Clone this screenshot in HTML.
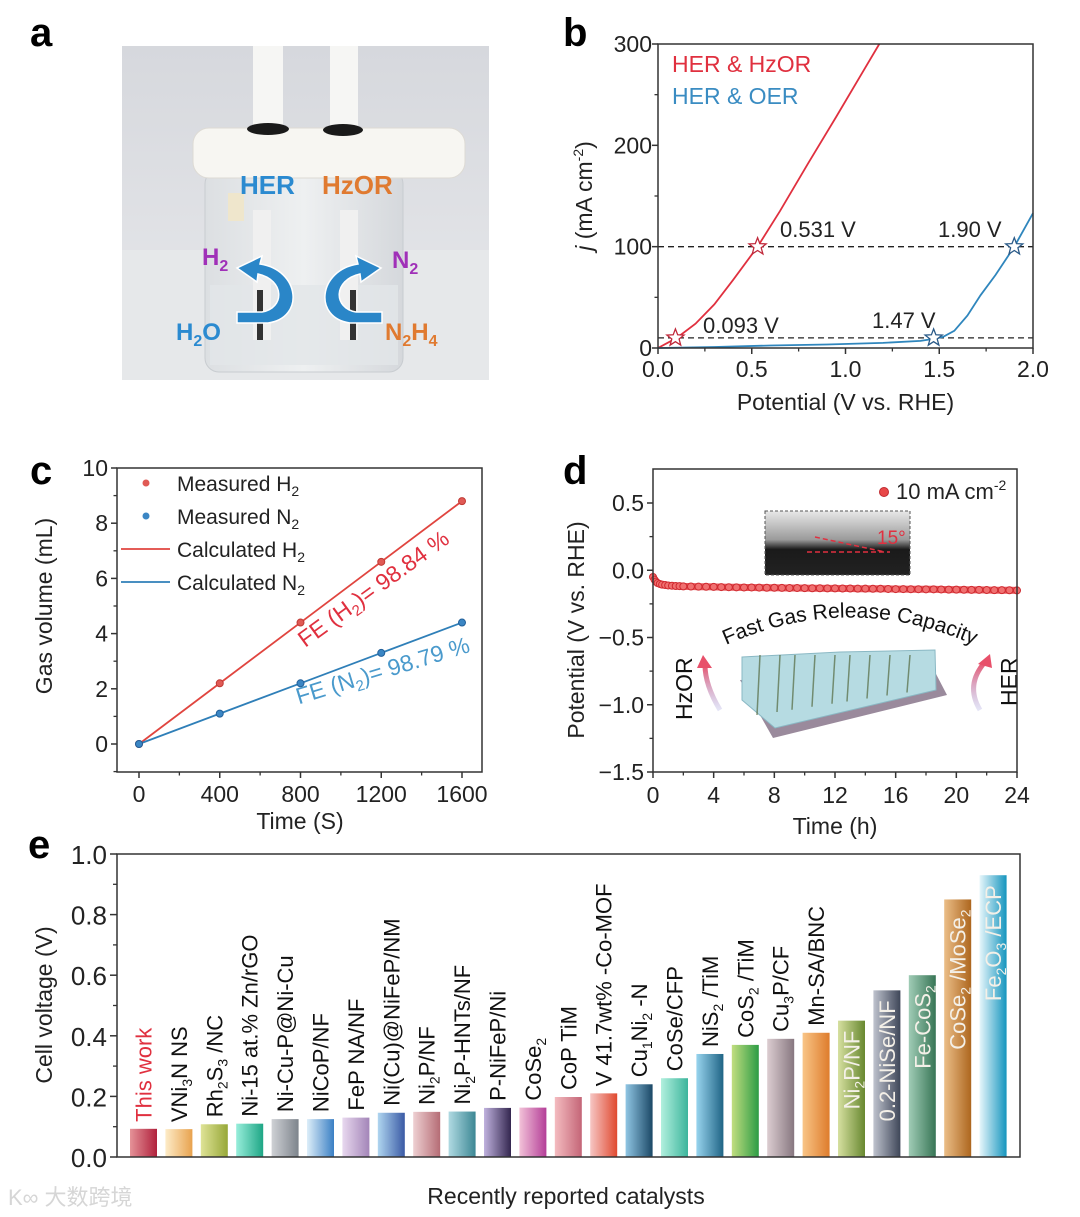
<!DOCTYPE html>
<html><head><meta charset="utf-8"><style>
html,body{margin:0;padding:0;background:#fff;}
svg{display:block;font-family:"Liberation Sans",Arial,sans-serif;}
</style></head><body>
<svg id="fig" xmlns="http://www.w3.org/2000/svg" width="1080" height="1217" viewBox="0 0 1080 1217">
<defs>
  <linearGradient id="wallg" x1="0" y1="0" x2="0" y2="1"><stop offset="0" stop-color="#d6d8dd"/><stop offset="1" stop-color="#e8e9ec"/></linearGradient>
  <linearGradient id="glassg" x1="0" y1="0" x2="1" y2="0"><stop offset="0" stop-color="#dcdfe2"/><stop offset="0.5" stop-color="#eef0f1"/><stop offset="1" stop-color="#d5d8dc"/></linearGradient>
  <linearGradient id="cag" x1="0" y1="0" x2="0" y2="1"><stop offset="0" stop-color="#e8e8e8"/><stop offset="0.45" stop-color="#9a9a9a"/><stop offset="0.6" stop-color="#1a1a1a"/><stop offset="1" stop-color="#222"/></linearGradient>
  <linearGradient id="arrg" x1="0" y1="1" x2="0" y2="0"><stop offset="0" stop-color="#a8a8e0" stop-opacity="0.3"/><stop offset="1" stop-color="#e8506a"/></linearGradient>
  <path id="arcpath" d="M 715 650 Q 850 585 985 650"/>
</defs>

<text x="30" y="46" font-size="40" font-weight="bold">a</text>
<text x="563" y="46" font-size="40" font-weight="bold">b</text>
<text x="30" y="484" font-size="40" font-weight="bold">c</text>
<text x="563" y="484" font-size="40" font-weight="bold">d</text>
<text x="28" y="858" font-size="40" font-weight="bold">e</text>

<g>
  <rect x="122" y="46" width="367" height="334" fill="url(#wallg)"/>
  <rect x="122" y="250" width="367" height="130" fill="#e6e8ea"/>
  <rect x="205" y="170" width="198" height="202" rx="14" fill="url(#glassg)" stroke="#c8ccd0"/>
  <rect x="210" y="285" width="188" height="80" fill="#e2e6e8" opacity="0.8"/>
  <rect x="253" y="46" width="30" height="86" fill="#f6f6f4"/>
  <rect x="330" y="46" width="28" height="86" fill="#f6f6f4"/>
  <rect x="193" y="128" width="272" height="50" rx="16" fill="#f7f6f2" stroke="#dddad4"/>
  <ellipse cx="268" cy="129" rx="21" ry="6" fill="#1a1a1a"/>
  <ellipse cx="343" cy="130" rx="20" ry="6" fill="#1a1a1a"/>
  <rect x="253" y="210" width="18" height="130" fill="#f0f0f0"/>
  <rect x="340" y="210" width="18" height="130" fill="#f0f0f0"/>
  <rect x="257" y="290" width="6" height="50" fill="#333"/>
  <rect x="350" y="290" width="6" height="50" fill="#333"/>
  <rect x="228" y="193" width="16" height="28" fill="#efe6cc"/>
  <path d="M 237 323 L 268 323 C 305 318 300 270 260 264 L 262 256 L 237 268 L 257 282 L 258 274 C 285 280 285 308 262 312 L 237 312 Z" fill="#2a86c8" stroke="#fff" stroke-width="1.5"/>
  <path d="M 382 323 L 350 323 C 313 318 318 270 358 264 L 356 256 L 381 268 L 361 282 L 360 274 C 333 280 333 308 356 312 L 382 312 Z" fill="#2a86c8" stroke="#fff" stroke-width="1.5"/>
  <text x="240" y="194" font-size="26" font-weight="bold" fill="#2b8ad0">HER</text>
  <text x="322" y="194" font-size="26" font-weight="bold" fill="#e07a30">HzOR</text>
  <text x="202" y="265" font-size="24" font-weight="bold" fill="#a030b8">H<tspan font-size="16" dy="6">2</tspan></text>
  <text x="392" y="268" font-size="24" font-weight="bold" fill="#a030b8">N<tspan font-size="16" dy="6">2</tspan></text>
  <text x="176" y="340" font-size="24" font-weight="bold" fill="#2b8ad0">H<tspan font-size="16" dy="6">2</tspan><tspan dy="-6">O</tspan></text>
  <text x="385" y="340" font-size="24" font-weight="bold" fill="#e07a30">N<tspan font-size="16" dy="6">2</tspan><tspan dy="-6">H</tspan><tspan font-size="16" dy="6">4</tspan></text>
</g>

<g id="pb"></g>
<g id="pc"></g>
<g id="pd"></g>
<g id="pe"></g>

<text x="8" y="1205" font-size="22" fill="#d6d6d6" font-family="'Liberation Sans','Noto Sans CJK SC',sans-serif">K∞ 大数跨境</text>
</svg>
<script>
const NS='http://www.w3.org/2000/svg';
function mk(parent,tag,attrs,text){const e=document.createElementNS(NS,tag);for(const k in attrs)e.setAttribute(k,attrs[k]);if(text!==undefined)e.textContent=text;parent.appendChild(e);return e;}
function lin(d0,d1,r0,r1){return v=>r0+(v-d0)*(r1-r0)/(d1-d0);}

const bRedX=[0,0.05,0.1,0.2,0.3,0.4,0.531,0.65,0.8,0.95,1.1,1.18];
const bRedY=[0,5,10,24,43,67,100,135,182,228,275,300];
const bBlueX=[0,0.3,0.6,0.9,1.2,1.4,1.47,1.52,1.58,1.65,1.72,1.8,1.9,2.0];
const bBlueY=[0,1,2.5,3.5,5,7,9,11,17,32,52,72,100,133];
const bStarX=[0.093,0.531,1.47,1.90];
const bStarY=[10,100,10,100];
const bStarSeries=['red','red','blue','blue'];
const bXTicks=[0,0.5,1.0,1.5,2.0];
const bYTicks=[0,100,200,300];
const bXLabels=['0.0','0.5','1.0','1.5','2.0'];
const bRefLines=[10,100];

const cTime=[0,400,800,1200,1600];
const cH2=[0,2.2,4.4,6.6,8.8];
const cN2=[0,1.1,2.2,3.3,4.4];
const cXTicks=[0,400,800,1200,1600];
const cYTicks=[0,2,4,6,8,10];

const dTime=[0,0.1,0.2,0.3,0.45,0.6,0.8,1,1.25,1.5,1.75,2,2.5,3,3.5,4,4.5,5,5.5,6,6.5,7,7.5,8,8.5,9,9.5,10,10.5,11,11.5,12,12.5,13,13.5,14,14.5,15,15.5,16,16.5,17,17.5,18,18.5,19,19.5,20,20.5,21,21.5,22,22.5,23,23.5,24];
const dPot=[-0.05,-0.07,-0.085,-0.095,-0.102,-0.107,-0.11,-0.113,-0.115,-0.117,-0.118,-0.12,-0.121,-0.122,-0.123,-0.124,-0.125,-0.126,-0.127,-0.128,-0.128,-0.129,-0.13,-0.13,-0.131,-0.132,-0.132,-0.133,-0.134,-0.134,-0.135,-0.135,-0.136,-0.136,-0.137,-0.137,-0.138,-0.138,-0.139,-0.14,-0.14,-0.141,-0.141,-0.142,-0.142,-0.143,-0.144,-0.144,-0.145,-0.146,-0.146,-0.147,-0.148,-0.148,-0.149,-0.15];
const dXTicks=[0,4,8,12,16,20,24];
const dYTicks=[0.5,0,-0.5,-1.0,-1.5];
const dYLabels=['0.5','0.0','\u22120.5','\u22121.0','\u22121.5'];

const eNames=[
 ['This work'],['VNi',['3'],'N NS'],['Rh',['2'],'S',['3'],' /NC'],['Ni-15 at.% Zn/rGO'],['Ni-Cu-P@Ni-Cu'],['NiCoP/NF'],['FeP NA/NF'],['Ni(Cu)@NiFeP/NM'],['Ni',['2'],'P/NF'],['Ni',['2'],'P-HNTs/NF'],['P-NiFeP/Ni'],['CoSe',['2']],['CoP TiM'],['V 41.7wt% -Co-MOF'],['Cu',['1'],'Ni',['2'],' -N'],['CoSe/CFP'],['NiS',['2'],' /TiM'],['CoS',['2'],' /TiM'],['Cu',['3'],'P/CF'],['Mn-SA/BNC'],['Ni',['2'],'P/NF'],['0.2-NiSe/NF'],['Fe-CoS',['2']],['CoSe',['2'],' /MoSe',['2']],['Fe',['2'],'O',['3'],' /ECP']];
const eValues=[0.093,0.092,0.108,0.11,0.125,0.125,0.13,0.146,0.149,0.15,0.162,0.163,0.198,0.21,0.24,0.26,0.34,0.37,0.39,0.41,0.45,0.55,0.60,0.85,0.93];
const eYTicks=[0,0.2,0.4,0.6,0.8,1.0];
const eYLabels=['0.0','0.2','0.4','0.6','0.8','1.0'];
const eColors=[['#e59298','#b0213c'],['#fdecc8','#e8a24e'],['#dfe397','#97a838'],['#98eedb','#1ea685'],['#cfd1d5','#7d848c'],['#ddeef9','#3a7fc4'],['#e8d8ef','#a385b8'],['#b0d6f0','#3a5aa5'],['#eed0d2','#b56c75'],['#b0dae2','#3c8794'],['#c0b2de','#33264f'],['#f2c2d8','#b43e98'],['#f4bcc0','#c46577'],['#f6c6c4','#e0492f'],['#90c6e4','#1b4866'],['#b2f0de','#3cb59c'],['#98d4ee','#1f6485'],['#c2de80','#2c9c44'],['#dccdd1','#877780'],['#f9c587','#de7c2c'],['#d6e0a0','#688830'],['#bfc3ce','#3e4658'],['#a0ccb6','#377555'],['#ebbe88','#ad661e'],['#e6f6fb','#1595be']];

function axesFrame(g,x0,y0,x1,y1){mk(g,'rect',{x:x0,y:y0,width:x1-x0,height:y1-y0,fill:'none',stroke:'#333','stroke-width':1.5});}

(function(){
 const g=document.getElementById('pb');
 const L=658,R=1033,T=44,B=348;
 const X=lin(0,2,L,R),Y=lin(0,300,B,T);
 bRefLines.forEach((v,i)=>{const l=mk(g,'line',{x1:L,x2:R,y1:Y(v),y2:Y(v),stroke:'#222','stroke-width':1.3,'stroke-dasharray':'6,4'});
 });
 const path=(xs,ys)=>xs.map((x,i)=>(i?'L':'M')+X(x).toFixed(1)+' '+Y(ys[i]).toFixed(1)).join(' ');
 const pr=mk(g,'path',{d:path(bRedX,bRedY),fill:'none',stroke:'#e0303f','stroke-width':1.8});
 
 const pbl=mk(g,'path',{d:path(bBlueX,bBlueY),fill:'none',stroke:'#2f86bd','stroke-width':1.8});
 
 bStarX.forEach((sx,i)=>{const cx=X(sx),cy=Y(bStarY[i]);let pts=[];for(let k=0;k<10;k++){const r=k%2?3.8:9,a=-Math.PI/2+k*Math.PI/5;pts.push((cx+r*Math.cos(a)).toFixed(1)+','+(cy+r*Math.sin(a)).toFixed(1));}
  const s=mk(g,'polygon',{points:pts.join(' '),fill:'#fff',stroke:bStarSeries[i]==='red'?'#c0283a':'#2a5a88','stroke-width':1.3});
  });
 axesFrame(g,L,T,R,B);
 bXTicks.forEach((v,i)=>{mk(g,'line',{x1:X(v),x2:X(v),y1:B,y2:B+6,stroke:'#333','stroke-width':1.5});
  const t=mk(g,'text',{x:X(v),y:B+29,'font-size':23,'text-anchor':'middle',fill:'#222'},bXLabels[i]);
  if(i<bXTicks.length-1)mk(g,'line',{x1:X(v+0.25),x2:X(v+0.25),y1:B,y2:B+3.5,stroke:'#333','stroke-width':1.3});});
 bYTicks.forEach((v,i)=>{mk(g,'line',{x1:L-6,x2:L,y1:Y(v),y2:Y(v),stroke:'#333','stroke-width':1.5});
  const t=mk(g,'text',{x:L-6,y:Y(v)+8,'font-size':23,'text-anchor':'end',fill:'#222'},String(v));
  if(i<bYTicks.length-1)mk(g,'line',{x1:L-3.5,x2:L,y1:Y(v+50),y2:Y(v+50),stroke:'#333','stroke-width':1.3});});
 const xt=mk(g,'text',{x:(L+R)/2,y:410,'font-size':23,'text-anchor':'middle',fill:'#222'},'Potential (V vs. RHE)');
 const yt=mk(g,'text',{transform:'translate(592,196) rotate(-90)','font-size':23,'text-anchor':'middle',fill:'#222'});
 mk(yt,'tspan',{'font-style':'italic'},'j');mk(yt,'tspan',{},' (mA cm');mk(yt,'tspan',{'font-size':14,dy:-9},'-2');mk(yt,'tspan',{dy:9},')');
 const l1=mk(g,'text',{x:672,y:72,'font-size':23,fill:'#e0303f'},'HER & HzOR');
 const l2=mk(g,'text',{x:672,y:104,'font-size':23,fill:'#3a8cc2'},'HER & OER');
 [['0.531 V',780,237],['1.90 V',938,237],['0.093 V',703,333],['1.47 V',872,328]].forEach(a=>{const t=mk(g,'text',{x:a[1],y:a[2],'font-size':22,fill:'#222'},a[0]);});
})();

(function(){
 const g=document.getElementById('pc');
 const L=117,R=482,T=468,B=772;
 const X=lin(0,1600,139,462),Y=lin(0,10,744,T);
 axesFrame(g,L,T,R,B);
 const pl=(ys,c,n)=>{const p=mk(g,'path',{d:cTime.map((t,i)=>(i?'L':'M')+X(t)+' '+Y(ys[i])).join(' '),fill:'none',stroke:c,'stroke-width':1.8});};
 pl(cH2,'#e0453f','calculated-h2-line');pl(cN2,'#2f7fb8','calculated-n2-line');
 cTime.forEach((t,i)=>{const a=mk(g,'circle',{cx:X(t),cy:Y(cH2[i]),r:3.5,fill:'#e05a55',stroke:'#c03a35'});
  const b=mk(g,'circle',{cx:X(t),cy:Y(cN2[i]),r:3.5,fill:'#3b86c4',stroke:'#22609a'});});
 cXTicks.forEach((v,i)=>{mk(g,'line',{x1:X(v),x2:X(v),y1:B,y2:B+6,stroke:'#333','stroke-width':1.5});
  const t=mk(g,'text',{x:X(v),y:B+30,'font-size':23,'text-anchor':'middle',fill:'#222'},String(v));
  if(i<cXTicks.length-1)mk(g,'line',{x1:X(v+200),x2:X(v+200),y1:B,y2:B+3.5,stroke:'#333','stroke-width':1.3});});
 cYTicks.forEach((v,i)=>{mk(g,'line',{x1:L-6,x2:L,y1:Y(v),y2:Y(v),stroke:'#333','stroke-width':1.5});
  const t=mk(g,'text',{x:L-9,y:Y(v)+8,'font-size':23,'text-anchor':'end',fill:'#222'},String(v));
  mk(g,'line',{x1:L-3.5,x2:L,y1:Y(v-1),y2:Y(v-1),stroke:'#333','stroke-width':1.3});});
 const xt=mk(g,'text',{x:300,y:829,'font-size':23,'text-anchor':'middle',fill:'#222'},'Time (S)');
 const yt=mk(g,'text',{transform:'translate(52,606) rotate(-90)','font-size':23,'text-anchor':'middle',fill:'#222'},'Gas volume (mL)');
 const leg=[['Measured H','2',483,'dot','#e05a55'],['Measured N','2',516,'dot','#3b86c4'],['Calculated H','2',549,'line','#e0453f'],['Calculated N','2',582,'line','#2f7fb8']];
 leg.forEach(e=>{if(e[3]==='dot')mk(g,'circle',{cx:146,cy:e[2],r:3.5,fill:e[4]});else mk(g,'line',{x1:121,x2:170,y1:e[2],y2:e[2],stroke:e[4],'stroke-width':1.8});
  const t=mk(g,'text',{x:177,y:e[2]+8,'font-size':21,fill:'#222'},e[0]);mk(t,'tspan',{'font-size':14,dy:5},e[1]);});
 const f1=mk(g,'text',{transform:'translate(378,595) rotate(-36)','font-size':23,'text-anchor':'middle',fill:'#e0303f'},'FE (H');
 mk(f1,'tspan',{'font-size':15,dy:5},'2');mk(f1,'tspan',{dy:-5},')= 98.84 %');
 const f2=mk(g,'text',{transform:'translate(385,678) rotate(-17)','font-size':23,'text-anchor':'middle',fill:'#4a9acc'},'FE (N');
 mk(f2,'tspan',{'font-size':15,dy:5},'2');mk(f2,'tspan',{dy:-5},')= 98.79 %');
})();

(function(){
 const g=document.getElementById('pd');
 const L=653,R=1017,T=469,B=772;
 const X=lin(0,24,L,R),Y=lin(-1.5,0.5,B,503);
 const ins=mk(g,'g',{});
 mk(ins,'rect',{x:765,y:511,width:145,height:64,fill:'url(#cag)',stroke:'#555','stroke-dasharray':'3,2'});
 mk(ins,'line',{x1:815,y1:537,x2:885,y2:552,stroke:'#e03040','stroke-width':1.5,'stroke-dasharray':'5,3'});
 mk(ins,'line',{x1:807,y1:552,x2:890,y2:552,stroke:'#e03040','stroke-width':1.5,'stroke-dasharray':'5,3'});
 mk(ins,'text',{x:877,y:544,'font-size':19,fill:'#e03040'},'15°');
 const sch=mk(g,'g',{});
 mk(sch,'polygon',{points:'740,680 935,672 947,695 773,738',fill:'#9a8a9c'});
 mk(sch,'polygon',{points:'742,657 840,652 935,650 936,690 775,728 742,700',fill:'#b6dbe2',stroke:'#8ab8c4','stroke-width':1});
 [760,780,795,815,835,850,870,890,910].forEach(x=>mk(sch,'line',{x1:x,y1:655,x2:x-3,y2:715-(x-760)*0.15,stroke:'#556a40','stroke-width':1.5,opacity:0.7}));
 const ft=mk(g,'text',{'font-size':21,fill:'#111'});
 mk(ft,'textPath',{href:'#arcpath',startOffset:'50%','text-anchor':'middle'},'Fast Gas Release Capacity');
 mk(g,'path',{d:'M 720 710 Q 705 685 705 665',fill:'none',stroke:'url(#arrg)','stroke-width':5});
 mk(g,'polygon',{points:'697,668 712,668 703,655',fill:'#e8506a'});
 mk(g,'path',{d:'M 980 710 Q 965 685 985 662',fill:'none',stroke:'url(#arrg)','stroke-width':5});
 mk(g,'polygon',{points:'978,664 992,668 990,654',fill:'#e8506a'});
 const h1=mk(g,'text',{transform:'translate(692,720) rotate(-90)','font-size':23,fill:'#111'},'HzOR');
 const h2=mk(g,'text',{transform:'translate(1017,706) rotate(-90)','font-size':23,fill:'#111'},'HER');
 const band=mk(g,'path',{d:dTime.map((t,i)=>(i?'L':'M')+X(t).toFixed(1)+' '+Y(dPot[i]).toFixed(1)).join(' '),fill:'none',stroke:'#e8575a','stroke-width':7});
 
 dTime.forEach((t,i)=>{const c=mk(g,'circle',{cx:X(t),cy:Y(dPot[i]),r:3.5,fill:'#f07070',stroke:'#d02a30','stroke-width':1});});
 axesFrame(g,L,T,R,B);
 dXTicks.forEach((v,i)=>{mk(g,'line',{x1:X(v),x2:X(v),y1:B,y2:B+6,stroke:'#333','stroke-width':1.5});
  const t=mk(g,'text',{x:X(v),y:B+31,'font-size':23,'text-anchor':'middle',fill:'#222'},String(v));
  if(i<dXTicks.length-1)mk(g,'line',{x1:X(v+2),x2:X(v+2),y1:B,y2:B+3.5,stroke:'#333','stroke-width':1.3});});
 dYTicks.forEach((v,i)=>{mk(g,'line',{x1:L-6,x2:L,y1:Y(v),y2:Y(v),stroke:'#333','stroke-width':1.5});
  const t=mk(g,'text',{x:L-9,y:Y(v)+8,'font-size':23,'text-anchor':'end',fill:'#222'},dYLabels[i]);
  if(i<dYTicks.length-1)mk(g,'line',{x1:L-3.5,x2:L,y1:Y(v-0.25),y2:Y(v-0.25),stroke:'#333','stroke-width':1.3});});
 const xt=mk(g,'text',{x:835,y:834,'font-size':23,'text-anchor':'middle',fill:'#222'},'Time (h)');
 const yt=mk(g,'text',{transform:'translate(584,630) rotate(-90)','font-size':23,'text-anchor':'middle',fill:'#222'},'Potential (V vs. RHE)');
 mk(g,'circle',{cx:884,cy:492,r:4.5,fill:'#e84848',stroke:'#c02a30'});
 const lg=mk(g,'text',{x:896,y:499,'font-size':22,fill:'#222'},'10 mA cm');
 mk(lg,'tspan',{'font-size':14,dy:-9},'-2');
})();

(function(){
 const g=document.getElementById('pe');
 const L=117,R=1020,T=854,B=1157;
 const Y=lin(0,1,B,T);
 const X=i=>143.5+i*35.4;
 const defs=document.querySelector('defs');
 eValues.forEach((v,i)=>{
  const gid='bg'+i;const lg=mk(defs,'linearGradient',{id:gid,x1:0,y1:0,x2:1,y2:0});
  mk(lg,'stop',{offset:0,'stop-color':eColors[i][0]});mk(lg,'stop',{offset:1,'stop-color':eColors[i][1]});
  const r=mk(g,'rect',{x:X(i)-13.5,y:Y(v),width:27,height:B-Y(v),fill:'url(#'+gid+')'});
  
  const inside=v>0.44;
  const col=i===0?'#e0303f':(inside?'#f4f0e8':'#111');
  const yPos=inside?Y(v)+10:Y(v)-7;
  const t=mk(g,'text',{transform:'translate('+(X(i)+8)+','+yPos+') rotate(-90)','font-size':22,fill:col,'text-anchor':inside?'end':'start'});
  
  eNames[i].forEach(p=>{if(Array.isArray(p)){mk(t,'tspan',{'font-size':14,dy:5},p[0]);mk(t,'tspan',{dy:-5},'\u200b');}else mk(t,'tspan',{},p);});
 });
 axesFrame(g,L,T,R,B);
 eYTicks.forEach((v,i)=>{mk(g,'line',{x1:L-7,x2:L,y1:Y(v),y2:Y(v),stroke:'#333','stroke-width':1.5});
  const t=mk(g,'text',{x:L-10,y:Y(v)+10,'font-size':26,'text-anchor':'end',fill:'#222'},eYLabels[i]);
  if(i<eYTicks.length-1)mk(g,'line',{x1:L-4,x2:L,y1:Y(v+0.1),y2:Y(v+0.1),stroke:'#333','stroke-width':1.3});});
 const xt=mk(g,'text',{x:566,y:1204,'font-size':23,'text-anchor':'middle',fill:'#222'},'Recently reported catalysts');
 const yt=mk(g,'text',{transform:'translate(52,1005) rotate(-90)','font-size':23,'text-anchor':'middle',fill:'#222'},'Cell voltage (V)');
})();
</script>
</body></html>
